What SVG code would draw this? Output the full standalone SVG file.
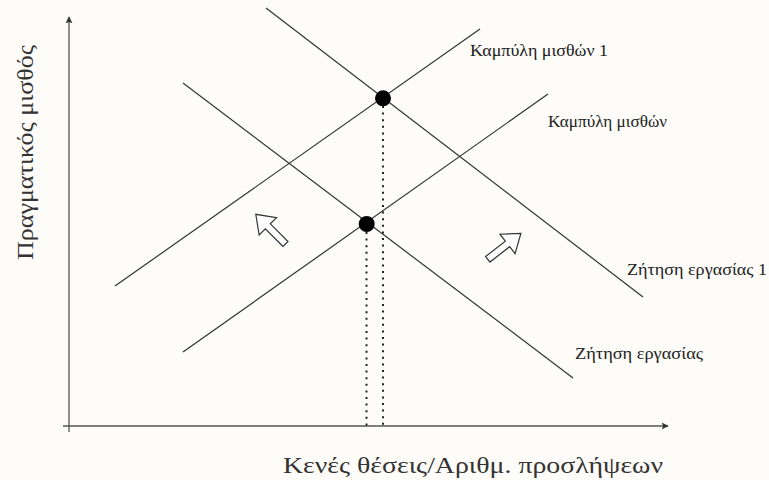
<svg xmlns="http://www.w3.org/2000/svg" width="769" height="480" viewBox="0 0 769 480">
<defs>
<style>
.ax{stroke:#555;stroke-width:1.3;fill:none}
.ln{stroke:#333;stroke-width:1.2;fill:none}
.dt{stroke:#222;stroke-width:2;stroke-dasharray:2 4.6;fill:none}
.blk{fill:#fff;stroke:#333;stroke-width:1.2;stroke-linejoin:miter}
.lbl{font-family:"Liberation Serif","DejaVu Serif",serif;font-size:16px;fill:#222}
.big{font-family:"Liberation Serif","DejaVu Serif",serif;font-size:24px;fill:#333}
</style>
<marker id="ah" viewBox="0 0 10 10" refX="9" refY="5" markerWidth="7" markerHeight="7" orient="auto" markerUnits="userSpaceOnUse">
<path d="M0,0 L10,5 L0,10 L2,5 Z" fill="#333"/>
</marker>
<path id="barrow" d="M0,-3.5 L25,-3.5 L25,-12.3 L42,0 L25,12.3 L25,3.5 L0,3.5 Z"/>
</defs>
<rect width="769" height="480" fill="#fdfcf8"/>
<g id="axes">
<line class="ax" x1="69" y1="432" x2="69" y2="17" marker-end="url(#ah)"/>
<line class="ax" x1="63" y1="426" x2="668" y2="426" marker-end="url(#ah)"/>
</g>
<g id="connectors">
<line id="supply1" class="ln" x1="115" y1="286" x2="480" y2="29"/>
<line id="supply" class="ln" x1="183" y1="352" x2="548" y2="94"/>
<line id="demand1" class="ln" x1="266" y1="8" x2="643" y2="297"/>
<line id="demand" class="ln" x1="183" y1="83" x2="573" y2="378"/>
<line class="dt" x1="366.5" y1="232" x2="366.5" y2="426"/>
<line class="dt" x1="383" y1="106" x2="383" y2="426"/>
</g>
<g id="eq1"><circle cx="383" cy="98.3" r="8" fill="#000"/></g>
<g id="eq0"><circle cx="366.7" cy="224" r="8" fill="#000"/></g>
<g id="arrow-left"><use href="#barrow" class="blk" transform="translate(285.5,244) rotate(-135)"/></g>
<g id="arrow-right"><use href="#barrow" class="blk" transform="translate(487.8,259.3) rotate(-38)"/></g>
<g id="labels">
<text class="lbl" x="470" y="56" textLength="138" lengthAdjust="spacingAndGlyphs">Καμπύλη μισθών 1</text>
<text class="lbl" x="548" y="127" textLength="119" lengthAdjust="spacingAndGlyphs">Καμπύλη μισθών</text>
<text class="lbl" x="627" y="275" textLength="140" lengthAdjust="spacingAndGlyphs">Ζήτηση εργασίας 1</text>
<text class="lbl" x="575" y="359" textLength="128" lengthAdjust="spacingAndGlyphs">Ζήτηση εργασίας</text>
<text class="big" x="283" y="473" textLength="380" lengthAdjust="spacingAndGlyphs">Κενές θέσεις/Αριθμ. προσλήψεων</text>
<text class="big" transform="translate(33,260) rotate(-90)" x="0" y="0" textLength="215" lengthAdjust="spacingAndGlyphs">Πραγματικός μισθός</text>
</g>
</svg>
